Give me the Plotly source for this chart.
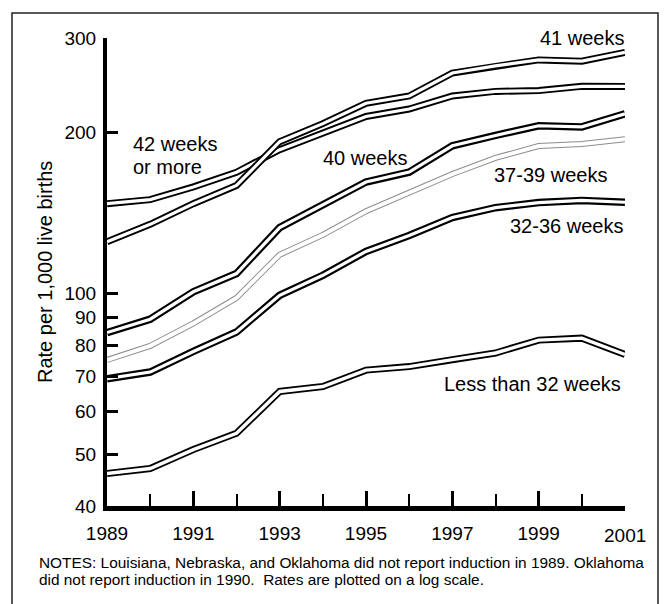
import math
import plotly.graph_objects as go

# Induction rates per 1,000 live births by gestational age, 1989-2001
years = list(range(1989, 2002))
wk42_plus = [147.0, 149.6, 158.0, 168.3, 185.5, 199.5, 214.0, 221.0, 233.7, 238.4, 239.2, 243.6, 243.5]
wk41 = [124.8, 134.5, 147.0, 159.0, 192.0, 207.5, 226.5, 233.7, 258.0, 266.0, 273.0, 271.5, 282.0]
wk40 = [84.4, 89.4, 100.6, 108.8, 132.6, 146.1, 161.4, 168.4, 188.6, 197.2, 205.6, 204.6, 216.4]
wk37_39 = [75.0, 79.7, 87.8, 98.0, 118.0, 128.5, 142.3, 154.0, 167.0, 179.0, 188.4, 190.1, 194.0]
wk32_36 = [69.2, 71.2, 77.8, 84.6, 99.1, 108.0, 119.7, 128.2, 138.5, 144.5, 147.7, 149.1, 147.9]
lt32 = [46.0, 47.0, 51.0, 54.7, 65.5, 66.9, 71.8, 72.9, 75.1, 77.3, 81.7, 82.4, 76.8]

x_tick_years = [1989, 1991, 1993, 1995, 1997, 1999, 2001]
x_minor_years = [1990, 1992, 1994, 1996, 1998, 2000]
y_tick_values = [40, 50, 60, 70, 80, 90, 100, 200, 300]

FONT = "Liberation Sans, Arial, sans-serif"

W, H = 666, 604
L, R, T, B = 107, 41, 38, 98
PW, PH = W - L - R, H - T - B


def px_x(x):
    return (x - L) / PW


def px_y(y):
    return (H - B - y) / PH


fig = go.Figure()

# each series is drawn as a cased line: a wide outline with a white core
series = [
    ("42 weeks or more", wk42_plus, "black", 7.0, 3.2),
    ("41 weeks", wk41, "black", 7.0, 3.2),
    ("40 weeks", wk40, "black", 7.5, 3.2),
    ("37-39 weeks", wk37_39, "#8c8c8c", 6.0, 4.0),
    ("32-36 weeks", wk32_36, "black", 7.5, 3.2),
    ("Less than 32 weeks", lt32, "black", 7.0, 3.4),
]
for name, vals, outline, w_out, w_in in series:
    fig.add_trace(go.Scatter(x=years, y=vals, mode="lines", name=name,
                             line=dict(color=outline, width=w_out),
                             hoverinfo="skip", showlegend=False))
    fig.add_trace(go.Scatter(x=years, y=vals, mode="lines", name=name,
                             line=dict(color="white", width=w_in),
                             hoverinfo="skip", showlegend=False))

label_font = dict(family=FONT, size=20, color="black")
# (text, x px, y px, anchor)
labels = [
    ("41 weeks", 627, 38, "right"),
    ("42 weeks", 131, 144, "left"),
    ("or more", 131, 166.5, "left"),
    ("40 weeks", 365, 158, "center"),
    ("37-39 weeks", 609, 175, "right"),
    ("32-36 weeks", 625, 226, "right"),
    ("Less than 32 weeks", 623, 384, "right"),
]
annotations = []
for text, x, y, anchor in labels:
    annotations.append(dict(text=text, x=px_x(x), y=px_y(y), xref="paper", yref="paper",
                            xanchor=anchor, yanchor="middle", showarrow=False, font=label_font))

# 2001 sits a little lower than the other year labels
annotations.append(dict(text="2001", x=2001, y=px_y(535), xref="x", yref="paper",
                        xanchor="center", yanchor="middle", showarrow=False,
                        font=dict(family=FONT, size=19, color="black")))

annotations.append(dict(text="Rate per 1,000 live births", x=px_x(45), y=0.5,
                        xref="paper", yref="paper", xanchor="center", yanchor="middle",
                        textangle=-90, showarrow=False,
                        font=dict(family=FONT, size=20, color="black")))

notes = [
    "NOTES: Louisiana, Nebraska, and Oklahoma did not report induction in 1989. Oklahoma",
    "did not report induction in 1990.  Rates are plotted on a log scale.",
]
for i, line in enumerate(notes):
    annotations.append(dict(text=line, x=px_x(37), y=px_y(562 + 17 * i), xref="paper", yref="paper",
                            xanchor="left", yanchor="middle", showarrow=False,
                            font=dict(family=FONT, size=15.4, color="black")))

fig.update_layout(
    width=W, height=H, autosize=False,
    margin=dict(l=L, r=R, t=T, b=B, pad=0),
    paper_bgcolor="white", plot_bgcolor="white",
    annotations=annotations,
    shapes=[dict(type="rect", xref="paper", yref="paper",
                 x0=px_x(12), x1=px_x(658), y0=px_y(640), y1=px_y(13),
                 line=dict(color="#222", width=1.5), layer="below")],
    xaxis=dict(
        range=[1989, 2001], showgrid=False, zeroline=False,
        showline=True, linecolor="black", linewidth=5,
        ticks="inside", ticklen=15, tickwidth=2.5, tickcolor="black",
        tickmode="array", tickvals=x_tick_years,
        ticktext=[str(y) if y != 2001 else "" for y in x_tick_years],
        tickfont=dict(family=FONT, size=19, color="black"),
        ticklabelstandoff=6,
        minor=dict(ticks="inside", ticklen=12, tickwidth=2, tickcolor="black",
                   tickmode="array", tickvals=x_minor_years, showgrid=False),
    ),
    yaxis=dict(
        type="log", range=[math.log10(40), math.log10(300)],
        showgrid=False, zeroline=False,
        showline=True, linecolor="black", linewidth=4,
        ticks="inside", ticklen=11, tickwidth=2.5, tickcolor="black",
        tickmode="array", tickvals=y_tick_values,
        ticktext=[str(v) for v in y_tick_values],
        tickfont=dict(family=FONT, size=19, color="black"),
        ticklabelstandoff=3,
    ),
)

fig.write_html("out.html")
